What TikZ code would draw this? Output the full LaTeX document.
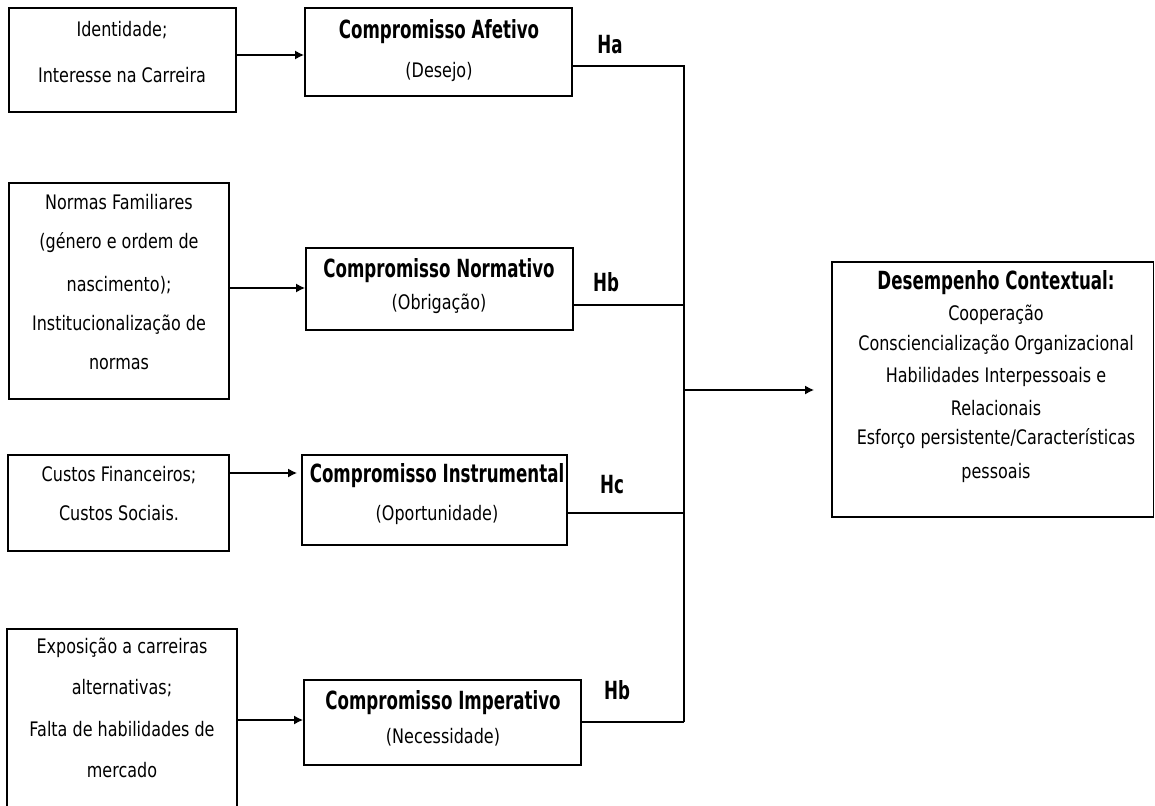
\documentclass[tikz,border=0pt]{standalone}
\usepackage{fontspec}
\setmainfont{DejaVu Sans}[FakeStretch=0.8]
\newfontfamily\tbold{DejaVu Sans}[FakeStretch=0.667]
\usetikzlibrary{arrows.meta,fit}
\tikzset{
  box/.style={draw=black, line width=1.8pt, inner sep=0pt},
  txt/.style={inner sep=0pt, font=\fontsize{20}{24}\selectfont, anchor=center},
  ttl/.style={inner sep=0pt, font=\tbold\bfseries\fontsize{25}{30}\selectfont, anchor=center},
  hyp/.style={inner sep=0pt, font=\tbold\bfseries\fontsize{25}{30}\selectfont, anchor=center},
  conn/.style={draw=black, line width=1.5pt},
  arr/.style={conn, -{Latex[length=9pt,width=9pt]}}
}
\begin{document}
\begin{tikzpicture}[x=1pt, y=-1pt]
\useasboundingbox (0,0) rectangle (1155,805);
% left boxes
\node[box, fit={(9,8) (236,112)}] (a1) {};
\node[box, fit={(9,183) (229,399)}] (a2) {};
\node[box, fit={(8,455) (229,551)}] (a3) {};
\node[box, fit={(7,629) (237,810)}] (a4) {};
% middle boxes
\node[box, fit={(305,8) (572,96)}] (c1) {};
\node[box, fit={(306,248) (573,330)}] (c2) {};
\node[box, fit={(302,455) (567,545)}] (c3) {};
\node[box, fit={(304,680) (581,765)}] (c4) {};
% right box
\node[box, fit={(832,262) (1153.5,517)}] (d) {};

% texts left
\node[txt] (a1t1) at (122,30) {Identidade;};
\node[txt] (a1t2) at (122,75) {Interesse na Carreira};
\node[txt] (a2t1) at (119,202) {Normas Familiares};
\node[txt] (a2t2) at (119,243) {(género e ordem de};
\node[txt] (a2t3) at (119,285) {nascimento);};
\node[txt] (a2t4) at (119,325) {Institucionalização de};
\node[txt] (a2t5) at (119,364) {normas};
\node[txt] (a3t1) at (119,475) {Custos Financeiros;};
\node[txt] (a3t2) at (119,513) {Custos Sociais.};
\node[txt] (a4t1) at (122,648) {Exposição a carreiras};
\node[txt] (a4t2) at (122,688) {alternativas;};
\node[txt] (a4t3) at (122,729) {Falta de habilidades de};
\node[txt] (a4t4) at (122,770) {mercado};
% texts middle
\node[ttl] (c1t1) at (439,32) {Compromisso Afetivo};
\node[txt] (c1t2) at (439,72) {(Desejo)};
\node[ttl] (c2t1) at (439,271) {Compromisso Normativo};
\node[txt] (c2t2) at (439,304) {(Obrigação)};
\node[ttl] (c3t1) at (437,476) {Compromisso Instrumental};
\node[txt] (c3t2) at (437,515) {(Oportunidade)};
\node[ttl] (c4t1) at (443,703) {Compromisso Imperativo};
\node[txt] (c4t2) at (443,737) {(Necessidade)};
% right texts
\node[ttl] (dt0) at (996,283) {Desempenho Contextual:};
\node[txt] (dt1) at (996,315) {Cooperação};
\node[txt] (dt2) at (996,345) {Consciencialização Organizacional};
\node[txt] (dt3) at (996,377) {Habilidades Interpessoais e};
\node[txt] (dt4) at (996,408) {Relacionais};
\node[txt] (dt5) at (996,439) {Esforço persistente/Características};
\node[txt] (dt6) at (996,473) {pessoais};
% hypothesis labels
\node[hyp] (ha) at (610,45) {Ha};
\node[hyp] (hb1) at (606,282) {Hb};
\node[hyp] (hc) at (612,485) {Hc};
\node[hyp] (hb2) at (617,690) {Hb};

% coordinates
\coordinate (l1) at (0,55);
\coordinate (l2) at (0,288);
\coordinate (l3) at (0,473);
\coordinate (l4) at (0,720);
\coordinate (j1) at (684,66);
\coordinate (j2) at (684,305);
\coordinate (j3) at (684,513);
\coordinate (j4) at (684,722);
\coordinate (jm) at (684,390);

% arrows left to middle
\draw[arr] (a1.east |- l1) -- (c1.west |- l1);
\draw[arr] (a2.east |- l2) -- (c2.west |- l2);
\draw[arr, shorten >=4pt] (a3.east |- l3) -- (c3.west |- l3);
\draw[arr] (a4.east |- l4) -- (c4.west |- l4);
% collectors
\draw[conn] (c1.east |- j1) -- (j1) -- (j4);
\draw[conn] (c2.east |- j2) -- (j2);
\draw[conn] (c3.east |- j3) -- (j3);
\draw[conn] (c4.east |- j4) -- (j4);
\draw[arr, shorten >=17pt] (jm) -- (d.west |- jm);
\end{tikzpicture}
\end{document}
